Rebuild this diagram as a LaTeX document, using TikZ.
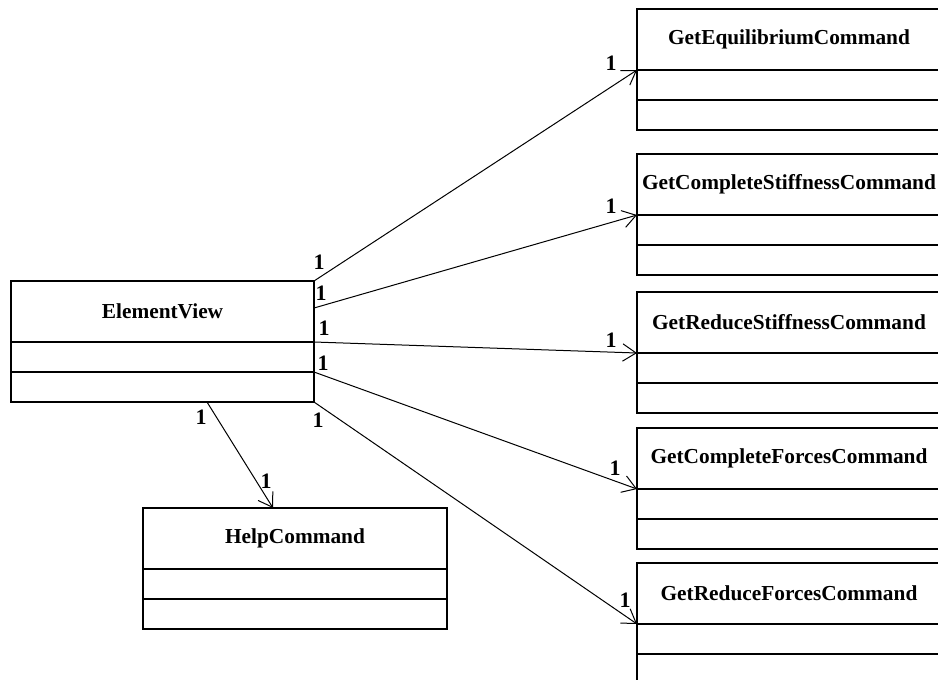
\documentclass[tikz,border=0pt]{standalone}
\usepackage{fontspec}
\setmainfont{Liberation Serif}
\usetikzlibrary{arrows.meta,calc,positioning}

\tikzset{
  classbox/.style={draw,line width=0.9pt,anchor=north west,inner sep=0pt,outer sep=0pt,
    minimum height=121*0.75pt},
  classtitle/.style={font=\bfseries\fontsize{16}{19}\selectfont,inner sep=0pt},
  assoc/.style={-{Straight Barb[length=10pt,width=13pt]},line width=0.75pt},
  mult/.style={font=\bfseries\fontsize{16.5}{19}\selectfont,inner sep=0pt}
}

\newcommand{\umlclass}[5]{%
  \node[classbox,minimum width=#4*0.75pt] (#1) at (#2,#3) {};
  \node[classtitle] (#1-title) at ($(#1.north)+(0,30)$) {#5};
  \draw[line width=0.9pt] ($(#1.north west)+(0,61)$) -- ($(#1.north east)+(0,61)$);
  \draw[line width=0.9pt] ($(#1.north west)+(0,91)$) -- ($(#1.north east)+(0,91)$);
}

\begin{document}
\begin{tikzpicture}[x=0.75pt,y=-0.75pt]
        \useasboundingbox (0,0) rectangle (938,679);
        \clip (0,0) rectangle (938,679);

        \umlclass{elem}{11}{281}{303}{ElementView}
        \umlclass{help}{143}{508}{304}{HelpCommand}

        \foreach \nm/\yy/\txt in {eq/9/GetEquilibriumCommand,
            cs/154/GetCompleteStiffnessCommand,rs/292/GetReduceStiffnessCommand,
            cf/428/GetCompleteForcesCommand,rf/563/GetReduceForcesCommand}{
          \umlclass{\nm}{637}{\yy}{304}{\txt}
        }

        % associations ElementView -> commands
        \foreach \dy/\nm in {0/eq,27/cs,61/rs,91/cf,121/rf}{
          \draw[assoc] ($(elem.north east)+(0,\dy)$) -- ($(\nm.north west)+(0,61)$);
        }
        \draw[assoc] ($(elem.south west)+(196,0)$) -- ($(help.north west)+(130,0)$);

        % multiplicities
        \foreach \i/\x/\y in {1/319/262,2/321/293,3/324/328,4/323/363,5/318/420,6/201/417}{
          \node[mult] (ms\i) at (\x,\y) {1};
        }
        \foreach \i/\x/\y in {1/611/63,2/611/206,3/611/340,4/615/468,5/625/600,6/266/481}{
          \node[mult] (me\i) at (\x,\y) {1};
        }
      \end{tikzpicture}
\end{document}
